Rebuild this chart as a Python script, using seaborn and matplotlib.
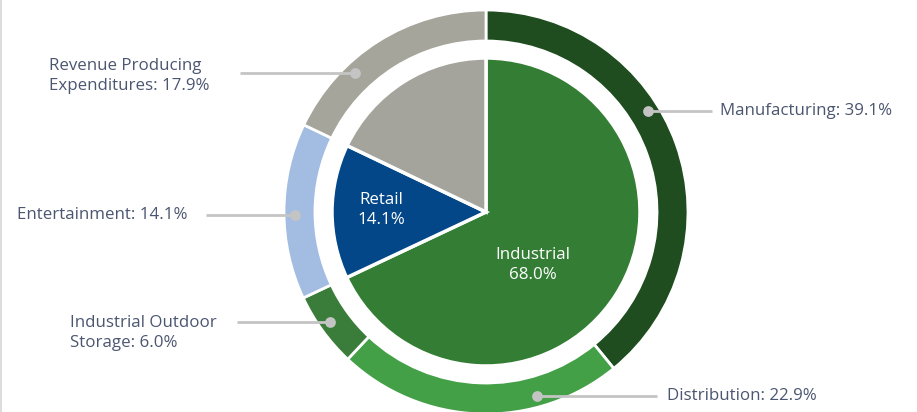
import numpy as np
import matplotlib
matplotlib.use("Agg")
import matplotlib.pyplot as plt
import seaborn as sns

# inner pie
inner_labels = ["Industrial", "Retail", "Revenue Producing"]
inner_values = [68.0, 14.1, 17.9]
inner_colors = ["#337d34", "#034789", "#a5a49c"]

# outer ring
outer_labels = ["Manufacturing", "Distribution", "Industrial Outdoor\nStorage",
                "Entertainment", "Revenue Producing\nExpenditures"]
outer_values = [39.1, 22.9, 6.0, 14.1, 17.9]
outer_colors = ["#1f4d1f", "#43a047", "#3a7d3b", "#a3bde2", "#a6a59c"]

sns.set_theme(style="white")
plt.rcParams["font.family"] = ["Open Sans", "DejaVu Sans"]

W, H = 917, 412
fig = plt.figure(figsize=(W / 100, H / 100), dpi=100)
ax = fig.add_axes([0, 0, 1, 1])

cx, cy = 486, H - 212
R_out, ring_w, R_in = 202, 31, 154

ax.pie(outer_values, colors=outer_colors, startangle=90, counterclock=False,
       radius=R_out, center=(cx, cy), frame=True,
       wedgeprops=dict(width=ring_w, edgecolor="white", linewidth=2))
ax.pie(inner_values, colors=inner_colors, startangle=90, counterclock=False,
       radius=R_in, center=(cx, cy), frame=True,
       wedgeprops=dict(edgecolor="white", linewidth=2.5))
ax.set_xlim(0, W)
ax.set_ylim(0, H)
ax.set_aspect("equal")
ax.axis("off")

txt = "#4b5670"
fs = 12.2

# inner labels
ax.text(533, H - 265, f"{inner_labels[0]}\n{inner_values[0]:.1f}%", color="white",
        ha="center", va="center", fontsize=fs, linespacing=1.35)
ax.text(381, H - 210, f"{inner_labels[1]}\n{inner_values[1]:.1f}%", color="white",
        ha="center", va="center", fontsize=fs, linespacing=1.35)

# leader lines: (label y px, side, line end x px, text x px, text offset px)
leaders = [
    (111, 1, 712, 720, 0),
    (396, 1, 657, 667, 0),
    (322, -1, 237, 70, 11),
    (215, -1, 206, 17, 0),
    (73, -1, 240, 49, 3),
]
r_dot = 191
for (ly, side, lx, tx, dy), lab, val in zip(leaders, outer_labels, outer_values):
    y = H - ly
    dx = np.sqrt(r_dot ** 2 - (y - cy) ** 2)
    xd = cx + side * dx
    ax.plot([xd, lx], [y, y], color="#c4c4c4", lw=2, solid_capstyle="butt", zorder=5)
    ax.scatter([xd], [y], s=60, color="#c4c4c4", zorder=6, linewidths=0)
    ax.text(tx, y - dy, f"{lab}: {val:.1f}%", color=txt, fontsize=fs,
            ha="left", va="center", linespacing=1.35)

# left border
fig.add_artist(plt.Line2D([0.001, 0.001], [0, 1], color="#dcdcdc", lw=1.5))

fig.savefig("out.png", dpi=100)
